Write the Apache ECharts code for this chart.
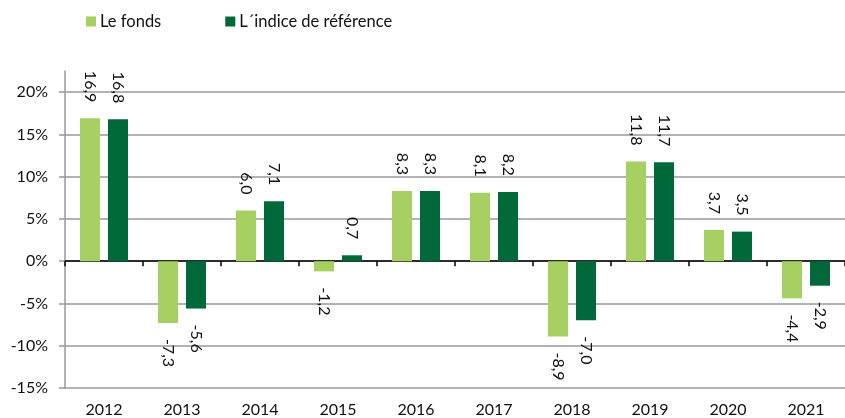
<!DOCTYPE html>
<html>
<head>
<meta charset="utf-8">
<script src="https://cdn.jsdelivr.net/npm/echarts@6/dist/echarts.min.js"></script>
<style>
html,body{margin:0;padding:0;background:#fff;}
#chart{width:845px;height:418px;}
</style>
</head>
<body>
<div id="chart"></div>
<script>
// donnees
var annees=['2012','2013','2014','2015','2016','2017','2018','2019','2020','2021'];
var fonds=[16.9,-7.3,6.0,-1.2,8.3,8.1,-8.9,11.8,3.7,-4.4];
var indice=[16.8,-5.6,7.1,0.7,8.3,8.2,-7.0,11.7,3.5,-2.9];
var yTicks=[-15,-10,-5,0,5,10,15,20];
var noms=['Le fonds','L\u00b4indice de r\u00e9f\u00e9rence'];

var police='Lato';
var coulFonds='#a6d162';
var coulIndice='#00693a';

function fmt(v){
	return v.toFixed(1).replace('.',',');
}
// etiquette tournee, au dessus ou en dessous selon le signe
function mkData(arr){
	var res=[];
	for(var i=0;i<arr.length;i++){
		var v=arr[i];
		res.push({
			value:v,
			label:{
				position:v>=0?'top':'bottom',
				align:v>=0?'right':'left'
			}
		});
	}
	return res;
}
var lbl={
	show:true,
	rotate:-90,
	verticalAlign:'middle',
	distance:16,
	fontFamily:police,
	fontSize:16,
	color:'#111',
	formatter:function(p){return fmt(p.value);}
};

var myChart=echarts.init(document.getElementById('chart'),null,{renderer:'canvas'});
myChart.setOption({
	animation:false,
	textStyle:{fontFamily:police},
	legend:{
		data:noms,
		left:86,
		top:13,
		padding:0,
		icon:'rect',
		itemWidth:10,
		itemHeight:10,
		itemGap:64,
		textStyle:{fontFamily:police,fontSize:16.5,color:'#111',padding:[0,0,0,-1]}
	},
	grid:{left:65,right:-2,top:71,bottom:30,containLabel:false},
	xAxis:[{
		type:'category',
		data:annees,
		position:'top',
		axisLine:{onZero:true,lineStyle:{color:'#000',width:1.5}},
		axisTick:{show:true,inside:true,length:5,lineStyle:{color:'#000',width:1.5}},
		axisLabel:{show:false},
		splitLine:{show:false}
	},{
		type:'category',
		data:annees,
		position:'bottom',
		axisLine:{show:false,onZero:false},
		axisTick:{show:false},
		axisLabel:{fontFamily:police,fontSize:16,color:'#111',margin:14},
		splitLine:{show:false}
	}],
	yAxis:{
		type:'value',
		min:-15,
		max:22.5,
		interval:5,
		axisLine:{show:true,lineStyle:{color:'#999',width:1.5}},
		axisTick:{show:true,length:6,customValues:yTicks,lineStyle:{color:'#999',width:1.5}},
		axisLabel:{fontFamily:police,fontSize:16,color:'#111',margin:17,customValues:yTicks,
			formatter:function(v){return v+'%';}},
		splitLine:{show:true,lineStyle:{color:'#999',width:1.5}}
	},
	series:[{
		name:noms[0],
		type:'bar',
		xAxisIndex:0,
		data:mkData(fonds),
		barWidth:20,
		barGap:'40%',
		itemStyle:{color:coulFonds},
		label:lbl
	},{
		name:noms[1],
		type:'bar',
		xAxisIndex:0,
		data:mkData(indice),
		barWidth:20,
		barGap:'40%',
		itemStyle:{color:coulIndice},
		label:lbl
	}]
});
</script>
</body>
</html>
